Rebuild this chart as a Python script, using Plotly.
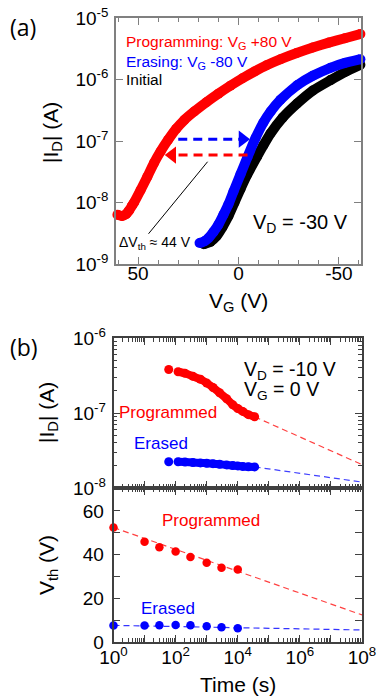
import plotly.graph_objects as go

W, H = 385, 699
OFF = 8  # page body margin in the browser

def fx(px):
    return (px - OFF) / W

def fy(py):
    return 1 - (py - OFF) / H

# ---------------- Panel (a): transfer curves ----------------
vg_prog = [60.3, 58, 56, 54.5, 53, 52, 48.8, 45.4, 42.1, 38.8, 35, 31, 27, 22, 16, 10, 4, -2,
           -8, -14, -21, -29, -37, -45, -53, -60.7]
id_prog = [6.31e-9, 6.03e-9, 6.46e-9, 7.41e-9, 8.91e-9, 1.0e-8, 1.58e-8, 2.63e-8, 4.37e-8, 6.76e-8,
           1.05e-7, 1.58e-7, 2.19e-7, 3.02e-7, 4.27e-7, 5.89e-7, 7.94e-7, 1.05e-6, 1.35e-6, 1.70e-6,
           2.14e-6, 2.69e-6, 3.31e-6, 3.98e-6, 4.68e-6, 5.50e-6]

vg_erase = [19.4, 17, 15, 12.5, 10, 7.5, 5, 2.5, -1, -4.5, -8.5, -12.4, -16, -20.9, -29.4, -37,
            -45.8, -53, -60.7]
id_erase = [2.19e-9, 2.34e-9, 2.63e-9, 3.31e-9, 4.37e-9, 6.31e-9, 9.33e-9, 1.51e-8, 2.88e-8,
            5.50e-8, 1.12e-7, 2.0e-7, 3.02e-7, 4.68e-7, 8.13e-7, 1.15e-6, 1.55e-6, 1.86e-6, 2.14e-6]

vg_init = [17.3, 14, 11, 8, 5, 2, -1, -4.3, -9.3, -12.4, -15.9, -22, -29.2, -37, -45.8, -53, -60.7]
id_init = [2.09e-9, 2.29e-9, 2.82e-9, 3.98e-9, 6.03e-9, 1.0e-8, 1.66e-8, 2.82e-8, 5.62e-8, 8.51e-8,
           1.32e-7, 2.40e-7, 4.07e-7, 6.61e-7, 9.77e-7, 1.32e-6, 1.74e-6]

# shift arrows (VG from -> to, at current level)
arrow_blue_vg = [30, -2.0]
arrow_blue_id = 1.07e-7
arrow_red_vg = [-4.5, 33.0]
arrow_red_id = 5.9e-8
dvth_line_vg = [44.8, 15.4]
dvth_line_id = [3.1e-9, 4.6e-8]

a_yticks = [1e-9, 1e-8, 1e-7, 1e-6, 1e-5]
a_ytext = ["10<sup>-9</sup>", "10<sup>-8</sup>", "10<sup>-7</sup>", "10<sup>-6</sup>", "10<sup>-5</sup>"]
a_xticks = [50, 0, -50]
a_xtext = ["50", "0", "-50"]

# ---------------- Panel (b): retention ----------------
t_first = [60]
id_prog_first = [3.8e-7]
id_er_first = [2.24e-8]
t_band = [120, 200, 360, 630, 1000, 1600, 2600, 4400, 6900, 10000, 14500, 22000, 35000]
id_prog_band = [3.55e-7, 3.39e-7, 3.09e-7, 2.82e-7, 2.51e-7, 2.19e-7, 1.86e-7, 1.55e-7, 1.29e-7,
                1.15e-7, 1.05e-7, 9.5e-8, 8.9e-8]
id_er_band = [2.24e-8, 2.22e-8, 2.19e-8, 2.16e-8, 2.14e-8, 2.11e-8, 2.07e-8, 2.03e-8, 1.99e-8,
              1.97e-8, 1.94e-8, 1.92e-8, 1.91e-8]
t_fit_id = [35000, 1e8]
id_prog_fit = [8.9e-8, 2.05e-8]
id_er_fit = [1.91e-8, 1.2e-8]

t_vth = [1, 10, 30, 100, 300, 1000, 3000, 10000]
vth_prog = [52.4, 45.9, 43.4, 41.4, 38.9, 36.3, 34.0, 33.2]
vth_er = [7.6, 7.6, 7.7, 7.8, 7.7, 7.2, 6.7, 6.3]
t_fit_vth = [1, 1e8]
vth_prog_fit = [52.4, 12.4]
vth_er_fit = [7.6, 5.5]

b_xticks = [1, 10, 100, 1e3, 1e4, 1e5, 1e6, 1e7, 1e8]
b_xtext = ["10<sup>0</sup>", "", "10<sup>2</sup>", "", "10<sup>4</sup>", "", "10<sup>6</sup>", "",
           "10<sup>8</sup>"]
b_xminor = [m * 10 ** k for k in range(0, 8) for m in range(2, 10)]
b_yticks = [1e-8, 1e-7, 1e-6]
b_ytext = ["10<sup>-8</sup>", "10<sup>-7</sup>", "10<sup>-6</sup>"]
b_yminor = [m * 10 ** k for k in (-8, -7) for m in range(2, 10)]
v_yticks = [0, 10, 20, 30, 40, 50, 60]
v_ytext = ["0", "", "20", "", "40", "", "60"]

RED = "#ff0000"
BLUE = "#0000ff"
BLACK = "#000000"
FONT = "Liberation Sans, Arial, sans-serif"

fig = go.Figure()

def band(x, y, color, xa, ya, lw=10, ms=10):
    fig.add_trace(go.Scatter(x=x, y=y, mode="lines+markers", xaxis=xa, yaxis=ya,
                             line=dict(color=color, width=lw, shape="spline", smoothing=0.5),
                             marker=dict(color=color, size=ms, line=dict(width=0)),
                             cliponaxis=False, hoverinfo="skip"))

# panel (a)
band(vg_init, id_init, BLACK, "x", "y")
band(vg_erase, id_erase, BLUE, "x", "y")
band(vg_prog, id_prog, RED, "x", "y")

fig.add_trace(go.Scatter(x=arrow_blue_vg, y=[arrow_blue_id] * 2, mode="lines", xaxis="x", yaxis="y",
                         line=dict(color=BLUE, width=3, dash="9px,6px"), hoverinfo="skip"))
fig.add_trace(go.Scatter(x=arrow_blue_vg[1:], y=[arrow_blue_id], mode="markers", xaxis="x", yaxis="y",
                         marker=dict(symbol="triangle-right", size=15, color=BLUE, line=dict(width=0)),
                         hoverinfo="skip"))
fig.add_trace(go.Scatter(x=arrow_red_vg, y=[arrow_red_id] * 2, mode="lines", xaxis="x", yaxis="y",
                         line=dict(color=RED, width=3, dash="9px,6px"), hoverinfo="skip"))
fig.add_trace(go.Scatter(x=arrow_red_vg[1:], y=[arrow_red_id], mode="markers", xaxis="x", yaxis="y",
                         marker=dict(symbol="triangle-left", size=15, color=RED, line=dict(width=0)),
                         hoverinfo="skip"))
fig.add_trace(go.Scatter(x=dvth_line_vg, y=dvth_line_id, mode="lines", xaxis="x", yaxis="y",
                         line=dict(color=BLACK, width=1), hoverinfo="skip"))

# panel (b) top
fig.add_trace(go.Scatter(x=t_fit_id, y=id_prog_fit, mode="lines", xaxis="x3", yaxis="y3",
                         line=dict(color="rgba(255,0,0,0.75)", width=1.2, dash="6px,4px"), hoverinfo="skip"))
fig.add_trace(go.Scatter(x=t_fit_id, y=id_er_fit, mode="lines", xaxis="x3", yaxis="y3",
                         line=dict(color="rgba(0,0,255,0.75)", width=1.2, dash="6px,4px"), hoverinfo="skip"))
band(t_band, id_prog_band, RED, "x3", "y3", lw=8, ms=9)
band(t_band, id_er_band, BLUE, "x3", "y3", lw=8, ms=9)
fig.add_trace(go.Scatter(x=t_first, y=id_prog_first, mode="markers", xaxis="x3", yaxis="y3",
                         marker=dict(color=RED, size=9), hoverinfo="skip"))
fig.add_trace(go.Scatter(x=t_first, y=id_er_first, mode="markers", xaxis="x3", yaxis="y3",
                         marker=dict(color=BLUE, size=9), hoverinfo="skip"))

# panel (b) bottom
fig.add_trace(go.Scatter(x=t_fit_vth, y=vth_prog_fit, mode="lines", xaxis="x2", yaxis="y2",
                         line=dict(color="rgba(255,0,0,0.75)", width=1.2, dash="6px,4px"), hoverinfo="skip"))
fig.add_trace(go.Scatter(x=t_fit_vth, y=vth_er_fit, mode="lines", xaxis="x2", yaxis="y2",
                         line=dict(color="rgba(0,0,255,0.8)", width=1.2, dash="6px,4px"), hoverinfo="skip"))
fig.add_trace(go.Scatter(x=t_vth, y=vth_prog, mode="markers", xaxis="x2", yaxis="y2", cliponaxis=False,
                         marker=dict(color=RED, size=8.5), hoverinfo="skip"))
fig.add_trace(go.Scatter(x=t_vth, y=vth_er, mode="markers", xaxis="x2", yaxis="y2", cliponaxis=False,
                         marker=dict(color=BLUE, size=8.5), hoverinfo="skip"))

tickfont = dict(family=FONT, size=19, color="black")
A_LINE = "#808080"
B_LINE = "#404040"

common_a = dict(showline=True, mirror="allticks", linewidth=1.5, linecolor=A_LINE, ticks="inside",
                tickcolor=A_LINE, tickwidth=1.2, showgrid=False, zeroline=False, tickfont=tickfont,
                automargin=False, ticklabeloverflow="allow")
common_b = dict(showline=True, mirror="allticks", linewidth=1.5, linecolor=B_LINE, ticks="inside",
                tickcolor=B_LINE, tickwidth=1.2, showgrid=False, zeroline=False, tickfont=tickfont,
                automargin=False, ticklabeloverflow="allow")

fig.update_layout(
    template="none",
    width=W, height=H, margin=dict(l=0, r=0, t=0, b=0, pad=0, autoexpand=False),
    paper_bgcolor="white", plot_bgcolor="white", showlegend=False,
    font=dict(family=FONT, color="black"),
    xaxis=dict(domain=[fx(116), fx(361)], range=[61, -61], anchor="y",
               tickmode="array", tickvals=a_xticks, ticktext=a_xtext, ticklen=7,
               ticklabelstandoff=-9,
               minor=dict(dtick=10, tick0=0, ticks="inside", ticklen=4, tickcolor=A_LINE, showgrid=False),
               **common_a),
    yaxis=dict(domain=[fy(264), fy(18)], type="log", range=[-9, -5], anchor="x",
               tickmode="array", tickvals=a_yticks, ticktext=a_ytext, ticklen=7,
               ticklabelstandoff=2, **common_a),
    xaxis2=dict(domain=[fx(113.5), fx(362)], type="log", range=[0, 8], anchor="y2",
                tickmode="array", tickvals=b_xticks, ticktext=b_xtext, ticklen=7,
                ticklabelstandoff=-3,
                minor=dict(tickmode="array", tickvals=b_xminor, ticks="inside", ticklen=4,
                           tickcolor=B_LINE, showgrid=False),
                **common_b),
    yaxis2=dict(domain=[fy(642), fy(488)], range=[0, 70.5], anchor="x2",
                tickmode="array", tickvals=v_yticks, ticktext=v_ytext, ticklen=7,
                ticklabelstandoff=4, **common_b),
    xaxis3=dict(domain=[fx(113.5), fx(362)], type="log", range=[0, 8], anchor="y3", matches="x2",
                tickmode="array", tickvals=b_xticks, ticktext=[""] * len(b_xticks), ticklen=7,
                minor=dict(tickmode="array", tickvals=b_xminor, ticks="inside", ticklen=4,
                           tickcolor=B_LINE, showgrid=False),
                **common_b),
    yaxis3=dict(domain=[fy(488), fy(338)], type="log", range=[-8, -6], anchor="x3",
                tickmode="array", tickvals=b_yticks, ticktext=b_ytext, ticklen=7,
                ticklabelstandoff=2,
                minor=dict(tickmode="array", tickvals=b_yminor, ticks="inside", ticklen=4,
                           tickcolor=B_LINE, showgrid=False),
                **common_b),
)

def txt(s, x, y, size, color="black", xanchor="left", angle=0, family=FONT):
    fig.add_annotation(text=s, x=fx(x), y=fy(y), xref="paper", yref="paper", showarrow=False,
                       xanchor=xanchor, yanchor="middle", textangle=angle,
                       font=dict(family=family, size=size, color=color))

# panel labels
txt("(a)", 8, 27, 23, family="Open Sans, sans-serif")
txt("(b)", 8, 347, 23, family="Open Sans, sans-serif")

# panel (a) texts
txt("Programming: V<sub>G</sub> +80 V", 124, 43, 15.5, RED)
txt("Erasing: V<sub>G</sub> -80 V", 124, 62, 15.5, BLUE)
txt("Initial", 124, 79, 15.5, BLACK)
txt("V<sub>D</sub> = -30 V", 251, 223, 20)
txt("ΔV<sub>th</sub> ≈ 44 V", 117, 243, 14)
txt("V<sub>G</sub> (V)", 238, 302, 21, xanchor="center")
txt("|I<sub>D</sub>| (A)", 52, 133, 21, xanchor="center", angle=-90)

# panel (b) texts
txt("V<sub>D</sub> = -10 V", 242, 371, 19.5)
txt("V<sub>G</sub> = 0 V", 242, 390, 19.5)
txt("Programmed", 117, 412, 17, RED)
txt("Erased", 132, 443, 17, BLUE)
txt("Programmed", 160, 520, 17, RED)
txt("Erased", 139, 608, 17, BLUE)
txt("|I<sub>D</sub>| (A)", 48, 413, 21, xanchor="center", angle=-90)
txt("V<sub>th</sub> (V)", 48, 565, 21, xanchor="center", angle=-90)
txt("Time (s)", 238, 684, 21, xanchor="center")

fig.write_html("out.html")
